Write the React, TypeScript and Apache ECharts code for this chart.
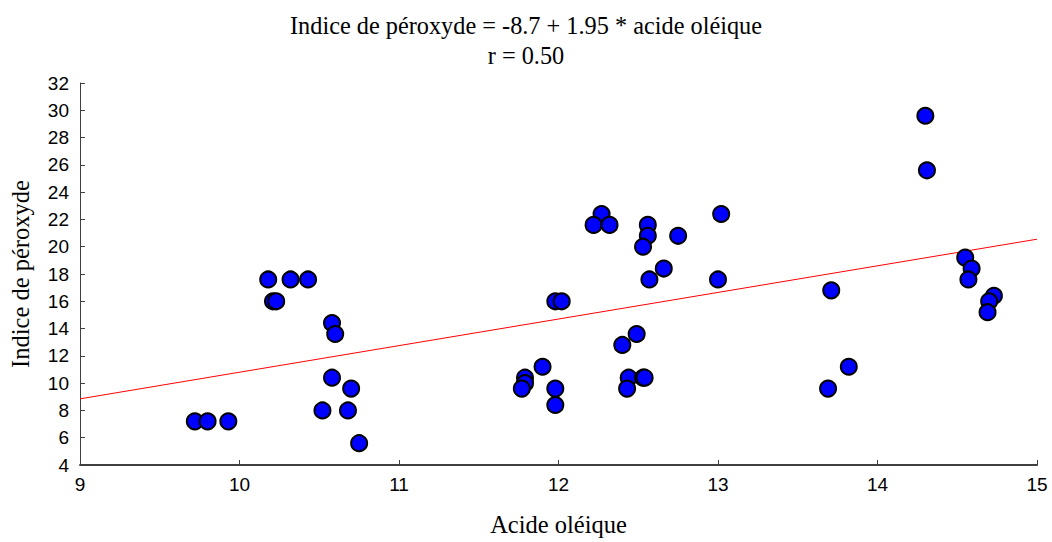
import React, { useEffect, useRef } from "react";
import * as echarts from "echarts";

const titleLine1 = "Indice de péroxyde = -8.7 + 1.95 * acide oléique";
const titleLine2 = "r = 0.50";
const xAxisName = "Acide oléique";
const yAxisName = "Indice de péroxyde";

const intercept = -8.7;
const slope = 1.95;

const acideOleique = [
  9.72, 9.8, 9.93, 10.18, 10.21, 10.23, 10.32, 10.43, 10.58, 10.6, 10.58, 10.7, 10.52, 10.68, 10.75,
  12.27, 12.22, 12.32, 12.56, 12.56, 12.53, 12.75, 13.02, 12.66, 12.57, 13.0, 11.98, 12.02, 12.49,
  12.4, 11.9, 11.79, 11.79, 11.77, 11.98, 11.98, 12.44, 12.53, 12.54, 12.43,
  14.3, 14.31, 13.71, 13.82, 13.69, 14.55, 14.59, 14.57, 14.73, 14.7, 14.69,
];
const indicePeroxyde = [
  7.2, 7.2, 7.2, 17.6, 16.0, 16.0, 17.6, 17.6, 14.4, 13.6, 10.4, 9.6, 8.0, 8.0, 5.6,
  22.4, 21.6, 21.6, 21.6, 20.8, 20.0, 20.8, 22.4, 18.4, 17.6, 17.6, 16.0, 16.0, 13.6,
  12.8, 11.2, 10.4, 10.0, 9.6, 9.6, 8.4, 10.4, 10.4, 10.4, 9.6,
  29.6, 25.6, 16.8, 11.2, 9.6, 19.2, 18.4, 17.6, 16.4, 16.0, 15.2,
];

const xTicks = [9, 10, 11, 12, 13, 14, 15];
const yTicks = [4, 6, 8, 10, 12, 14, 16, 18, 20, 22, 24, 26, 28, 30, 32];

export default function App() {
  const ref = useRef<HTMLDivElement>(null);
  useEffect(() => {
    if (!ref.current) return;
    const chart = echarts.init(ref.current, undefined, { renderer: "svg" });
    const points = acideOleique.map((x, i) => [x, indicePeroxyde[i]]);
    const xMin = xTicks[0];
    const xMax = xTicks[xTicks.length - 1];
    const fitLine = [
      [xMin, intercept + slope * xMin],
      [xMax, intercept + slope * xMax],
    ];
    const axisColor = "#404040";
    const serif = "Liberation Serif";
    const sans = "Liberation Sans";
    chart.setOption({
      animation: false,
      backgroundColor: "#ffffff",
      title: {
        text: titleLine1 + "\n" + titleLine2,
        left: "center",
        top: 5,
        textStyle: {
          fontFamily: serif,
          fontSize: 24.3,
          fontWeight: "normal",
          color: "#000",
          lineHeight: 30,
        },
      },
      grid: { left: 80, right: 15, top: 83, bottom: 75, containLabel: false },
      xAxis: {
        type: "value",
        min: xMin,
        max: xMax,
        interval: 1,
        name: xAxisName,
        nameLocation: "middle",
        nameGap: 47,
        nameTextStyle: { fontFamily: serif, fontSize: 24.5, color: "#000" },
        axisLine: { show: true, lineStyle: { color: axisColor, width: 2 } },
        axisTick: { show: true, inside: true, length: 5, lineStyle: { color: axisColor } },
        axisLabel: { fontFamily: sans, fontSize: 19, color: "#000", margin: 10 },
        splitLine: { show: false },
      },
      yAxis: {
        type: "value",
        min: yTicks[0],
        max: yTicks[yTicks.length - 1],
        interval: 2,
        name: yAxisName,
        nameLocation: "middle",
        nameGap: 47,
        nameRotate: 90,
        nameTextStyle: { fontFamily: serif, fontSize: 24.5, color: "#000" },
        axisLine: { show: true, lineStyle: { color: axisColor, width: 1 } },
        axisTick: { show: true, inside: true, length: 5, lineStyle: { color: axisColor } },
        axisLabel: { fontFamily: sans, fontSize: 19, color: "#000", margin: 11 },
        splitLine: { show: false },
      },
      series: [
        {
          type: "line",
          data: fitLine,
          showSymbol: false,
          symbol: "none",
          lineStyle: { color: "#ff0000", width: 1 },
          z: 1,
          silent: true,
        },
        {
          type: "scatter",
          data: points,
          symbol: "circle",
          symbolSize: 16,
          itemStyle: { color: "#0000ff", borderColor: "#000000", borderWidth: 2, opacity: 1 },
          z: 2,
        },
      ],
    });
    return () => chart.dispose();
  }, []);
  return (
    <div
      ref={ref}
      style={{ position: "fixed", left: 0, top: 0, width: 1052, height: 542, background: "#fff" }}
    />
  );
}
